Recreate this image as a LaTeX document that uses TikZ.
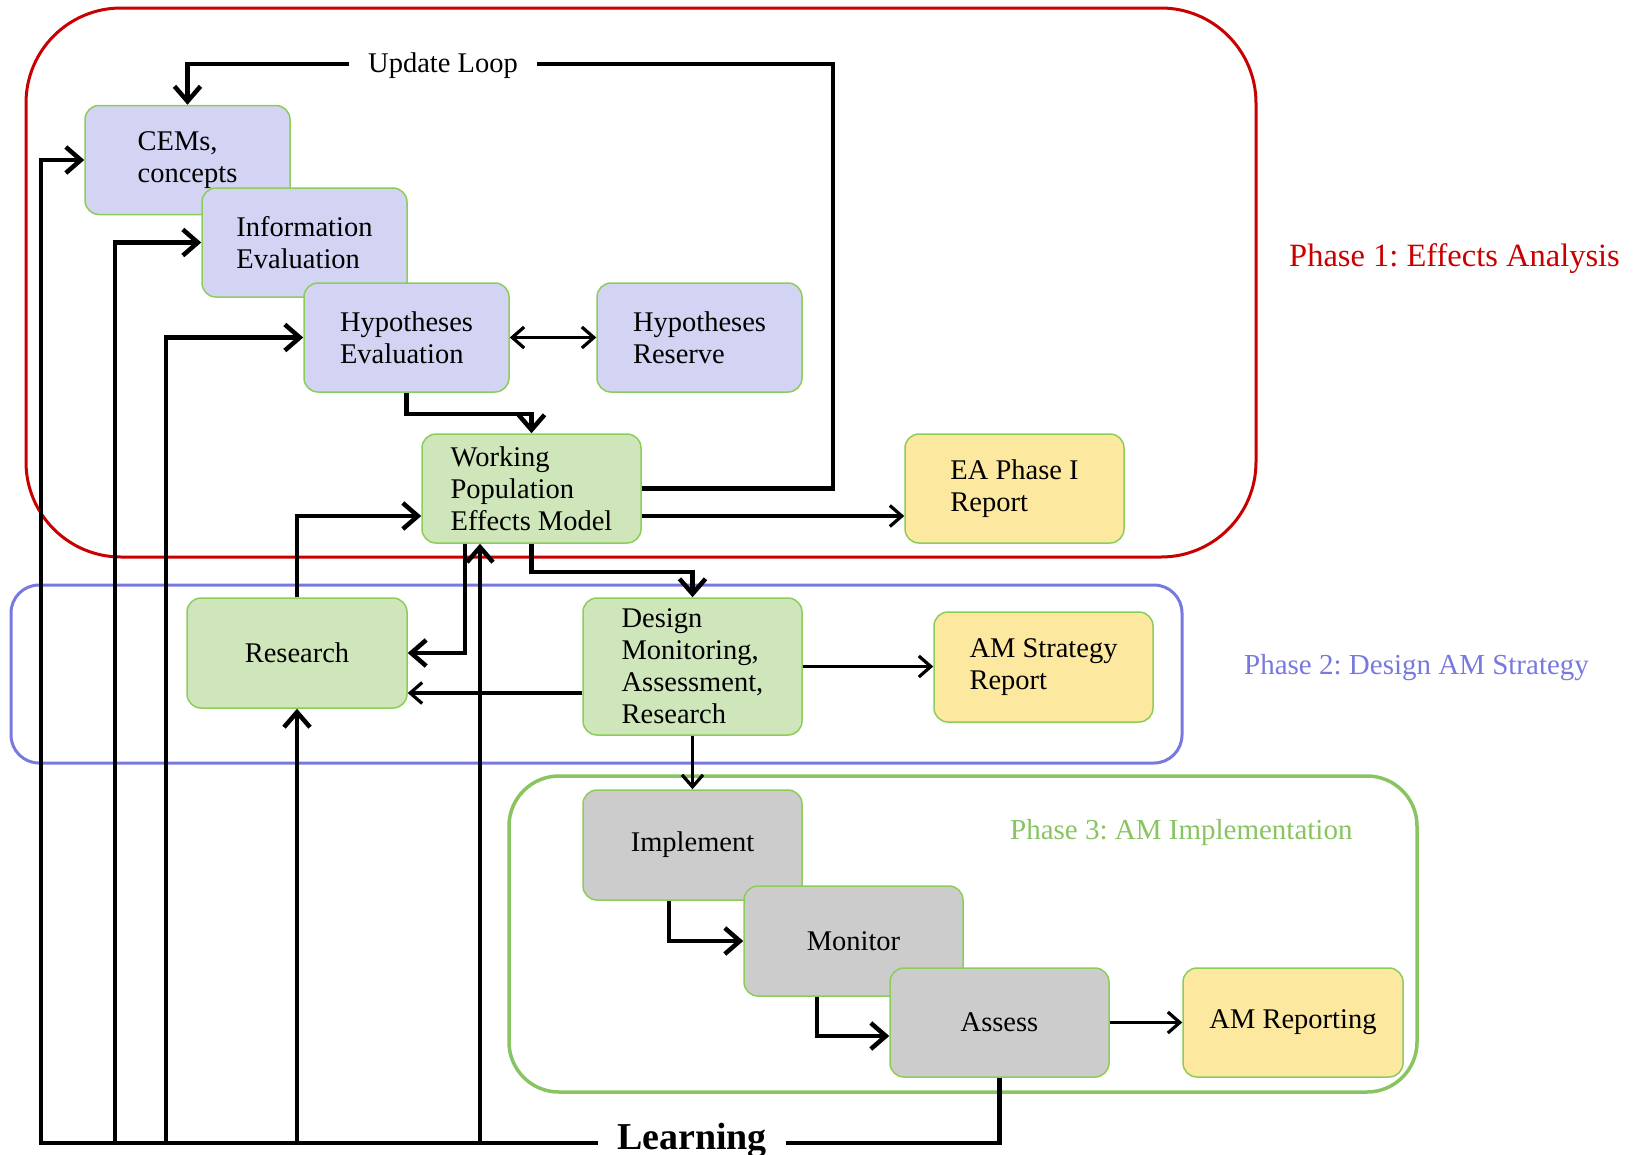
\documentclass[tikz,border=0pt]{standalone}
\usepackage{fontspec}
\setmainfont{Liberation Serif}
\usetikzlibrary{arrows.meta,calc}
\definecolor{pfill}{RGB}{211,211,243}
\definecolor{gfill}{RGB}{207,230,187}
\definecolor{yfill}{RGB}{253,232,160}
\definecolor{kfill}{RGB}{204,204,204}
\definecolor{bgreen}{RGB}{140,205,90}
\definecolor{pred}{RGB}{200,0,0}
\definecolor{pblue}{RGB}{120,120,225}
\definecolor{pgreen}{RGB}{136,196,96}
\frenchspacing
\begin{document}
\begin{tikzpicture}[x=1pt,y=-1pt,
  bx/.style={draw=bgreen, line width=1.5pt, rounded corners=14pt, minimum width=219pt, minimum height=110pt, inner sep=0pt, align=left, font=\fontsize{28.5}{32}\selectfont},
  pb/.style={bx, fill=pfill, minimum width=205pt, minimum height=109pt},
  gb/.style={bx, fill=gfill},
  yb/.style={bx, fill=yfill},
  kb/.style={bx, fill=kfill},
  ln/.style={line width=4.5pt},
  tn/.style={line width=3.2pt},
  Ta/.style={-{Straight Barb[length=15pt,width=26pt]}},
  ta/.style={-{Straight Barb[length=12pt,width=21pt]}},
  tda/.style={{Straight Barb[length=12pt,width=21pt]}-{Straight Barb[length=12pt,width=21pt]}},
  lab/.style={inner sep=0pt, font=\fontsize{29}{32}\selectfont},
]
\useasboundingbox (0,0) rectangle (1643,1154);
% phase frames
\draw[pred, line width=3pt, rounded corners=95pt] (26,8) rectangle (1256,557);
\draw[pblue, line width=3pt, rounded corners=28pt] (11,585) rectangle (1182,763);
\draw[pgreen, line width=3.5pt, rounded corners=50pt] (509,776) rectangle (1417,1092);
% phase labels
\node[lab, text=pred, anchor=base west, font=\fontsize{32.5}{34}\selectfont] (ph1) at (1289,266) {Phase 1: Effects Analysis};
\node[lab, text=pblue, anchor=base west] (ph2) at (1244,674) {Phase 2: Design AM Strategy};
\node[lab, text=pgreen, anchor=base west] (ph3) at (1010,839) {Phase 3: AM Implementation};
% boxes
\node[pb] (cems) at (187.5,160) {CEMs,\\concepts};
\node[pb] (info) at (304.5,242.5) {Information\\Evaluation};
\node[pb] (hyp) at (406.5,337.5) {Hypotheses\\Evaluation};
\node[pb] (hres) at (699.5,337.5) {Hypotheses\\Reserve};
\node[gb, minimum height=109pt] (wpem) at (531.5,488.5) {Working\\Population\\Effects Model};
\node[yb, minimum height=109pt] (ea) at (1014.5,488.5) {EA Phase I\\Report};
\node[gb, minimum width=220pt] (research) at (297,653) {Research};
\node[gb, minimum height=137pt] (design) at (692.5,666.5) {Design\\Monitoring,\\Assessment,\\Research};
\node[yb] (ams) at (1043.5,667) {AM Strategy\\Report};
\node[kb] (impl) at (692.5,845) {Implement};
\node[kb] (mon) at (853.5,941) {Monitor};
\node[kb, minimum height=109pt] (assess) at (999.5,1022.5) {Assess};
\node[yb, minimum width=220pt, minimum height=109pt] (amr) at (1293,1022.5) {AM Reporting};
% helper coordinates
\coordinate (uR) at (833,64);
\coordinate (y516) at (0,516);
\coordinate (x465) at (465,0);
\coordinate (y693) at (0,693);
\coordinate (x669) at (669,0);
\coordinate (x817) at (817,0);
\coordinate (y1036) at (0,1036);
\coordinate (l1) at (41,1143);
\coordinate (l2) at (115,1143);
\coordinate (l3) at (166,1143);
\coordinate (l4) at (297,1143);
\coordinate (l5) at (480,1143);
% connectors
\draw[ln,Ta] (wpem.east) -| (uR) -| (cems.north);
\draw[tn,tda] (hyp.east) -- (hres.west);
\draw[ln,Ta] (hyp.south) -- ++(0,21) -| (wpem.north);
\draw[tn,ta] (wpem.east |- y516) -- (ea.west |- y516);
\draw[ln,Ta] (research.north) |- (wpem.west |- y516);
\draw[ln,Ta] (wpem.south -| x465) |- (research.east);
\draw[tn,ta] (design.west |- y693) -- (research.east |- y693);
\draw[ln,Ta] (wpem.south) -- ++(0,28) -| (design.north);
\draw[tn,ta] (design.east) -- (ams.west |- design.east);
\draw[tn,ta] (design.south) -- (impl.north);
\draw[ln,Ta] (impl.south -| x669) |- (mon.west);
\draw[ln,Ta] (mon.south -| x817) |- (assess.west |- y1036);
\draw[tn,ta] (assess.east) -- (amr.west);
% learning feedback
\draw[ln,Ta] (assess.south) |- (l1) |- (cems.west);
\draw[ln,Ta] (l2) |- (info.west);
\draw[ln,Ta] (l3) |- (hyp.west);
\draw[ln,Ta] (l4) -- (research.south);
\draw[ln,Ta] (l5) -- (wpem.south -| l5);
% labels on lines
\node[fill=white, inner xsep=19pt, inner ysep=3pt, anchor=base, font=\fontsize{28.5}{32}\selectfont] (ul) at (443,72) {Update Loop};
\node[fill=white, inner xsep=19pt, inner ysep=2pt, anchor=base, font=\fontsize{38}{40}\selectfont\bfseries] (learn) at (692,1149) {Learning};
\end{tikzpicture}
\end{document}
